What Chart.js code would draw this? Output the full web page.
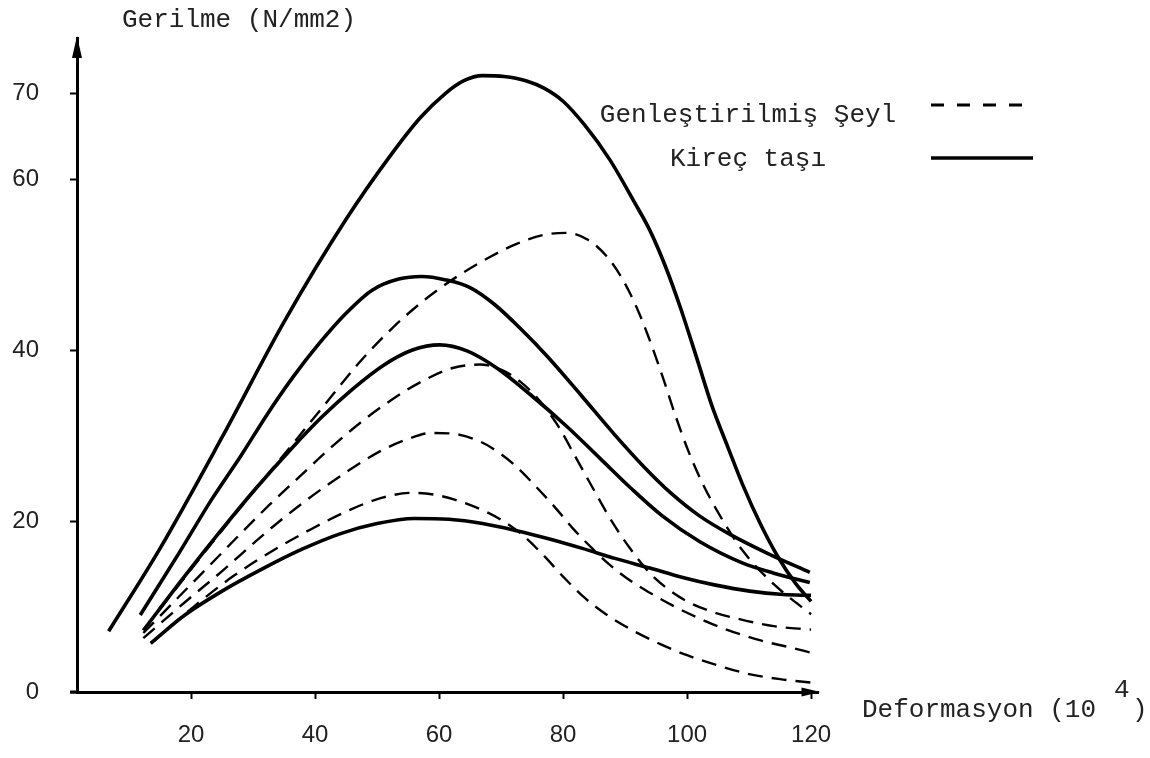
<!DOCTYPE html>
<html>
<head>
<meta charset="utf-8">
<script src="https://cdn.jsdelivr.net/npm/chart.js@4.4.1/dist/chart.umd.min.js"></script>
<style>
  html, body { margin: 0; padding: 0; background: #fff; }
  #wrap { width: 1150px; height: 758px; }
</style>
</head>
<body>
<div id="wrap"><canvas id="c"></canvas></div>
<script>
/* Gerilme - deformasyon eğrileri: 4 kireç taşı (düz), 4 genleştirilmiş şeyl (kesikli) */
const seriesNames = ['Genleştirilmiş Şeyl', 'Kireç taşı'];
const yTitle = 'Gerilme (N/mm2)';
const xTitle = 'Deformasyon (10';
const xTitleExp = '4';
const xTicks = [20, 40, 60, 80, 100, 120];
const yTicks = [0, 20, 40, 60, 70];

// Kireç taşı (düz çizgiler)
const kirec1X = [6.7, 15, 25, 35, 45, 52, 57, 61, 64, 67, 70.5, 74, 77, 80, 83.5, 87.5, 91.5, 94, 96.5, 99, 101.5, 104, 106.5, 109, 111.8, 114.5, 117.5, 120];
const kirec1Y = [7.1, 16.8, 29.8, 43.3, 55.3, 62.6, 67.2, 70.0, 71.5, 72.1, 72.0, 71.5, 70.6, 69.1, 66.3, 62.3, 57.3, 54.0, 49.8, 44.8, 39.2, 33.5, 28.8, 24.2, 19.7, 16.0, 12.7, 10.6];
const kirec2X = [11.8, 18.1, 23.3, 28.1, 32.3, 36.4, 40.7, 45.0, 49.2, 53.5, 57.2, 61.1, 65, 69, 73.0, 77.4, 82.8, 88.2, 93.1, 97.5, 102, 107, 113.3, 119.8];
const kirec2Y = [9.0, 16.3, 22.5, 27.7, 32.5, 36.8, 40.8, 44.3, 47.0, 48.3, 48.6, 48.2, 47.3, 45.3, 42.6, 39.3, 34.8, 30.2, 26.3, 23.2, 20.6, 18.4, 16.1, 14.0];
const kirec3X = [12.3, 18.6, 24.5, 30.2, 36.1, 41, 46, 51, 55.7, 60.1, 64.5, 69.3, 74.7, 80.7, 86, 91, 96, 102, 108.9, 114, 119.8];
const kirec3Y = [7.2, 13.2, 18.6, 23.6, 28.4, 32.1, 35.4, 38.2, 40.0, 40.6, 39.9, 37.9, 34.8, 31.0, 27.3, 23.8, 20.6, 17.6, 15.1, 13.9, 12.8];
const kirec4X = [13.5, 19, 25, 31.5, 37.9, 44, 50, 56, 61.6, 67, 72.3, 77.8, 83.1, 88.5, 94, 99.3, 104.6, 110.1, 115.5, 120];
const kirec4Y = [5.7, 9.0, 11.8, 14.4, 16.7, 18.5, 19.7, 20.3, 20.2, 19.7, 18.9, 17.9, 16.8, 15.6, 14.5, 13.4, 12.5, 11.8, 11.4, 11.3];

// Genleştirilmiş şeyl (kesikli çizgiler)
const seyl1X = [12.6, 21.8, 29.8, 36.6, 42, 47.2, 52.5, 57.9, 62.7, 68.5, 72.8, 77.1, 80.5, 84, 87, 89.5, 91.8, 93.8, 96, 98, 100.2, 102.5, 105, 108.9, 114.3, 120];
const seyl1Y = [7.5, 16.0, 23.2, 29.2, 34.0, 38.6, 42.6, 46.0, 48.5, 51.0, 52.5, 53.5, 53.7, 52.9, 51.0, 48.4, 45.1, 41.5, 37.0, 32.6, 28.2, 24.4, 21.0, 16.6, 12.4, 9.1];
const seyl2X = [12.3, 21.9, 32.5, 37.8, 42.1, 47.3, 52.6, 57.4, 62.2, 66.6, 70, 73.1, 76.3, 79.3, 82, 85, 88, 91, 94, 97, 100, 104, 108.6, 114, 120];
const seyl2Y = [6.9, 14.0, 21.8, 25.4, 28.3, 31.5, 34.3, 36.4, 37.9, 38.3, 37.7, 36.3, 34.0, 31.0, 27.5, 23.6, 19.8, 16.6, 13.9, 12.0, 10.6, 9.4, 8.5, 7.7, 7.3];
const seyl3X = [12.3, 19, 25.1, 31.5, 37.8, 45.4, 50.6, 55, 58.7, 62.4, 65.6, 68.4, 72.1, 75.4, 78.7, 81.5, 84.7, 87.5, 90.7, 94, 97.7, 102, 106, 112, 116.7, 120];
const seyl3Y = [6.3, 10.5, 14.2, 18.3, 22.0, 25.9, 28.2, 29.6, 30.3, 30.2, 29.6, 28.6, 26.6, 24.2, 21.6, 19.2, 16.8, 14.9, 13.1, 11.6, 10.1, 8.6, 7.4, 6.0, 5.2, 4.6];
const seyl4X = [13.5, 20.3, 26.7, 33.1, 39.5, 45.9, 50.7, 55.6, 59.1, 62.5, 66.9, 70.1, 73.4, 76.7, 80, 83.5, 87.5, 91.5, 95.7, 100, 105, 110, 115, 120];
const seyl4Y = [5.7, 9.9, 13.5, 16.5, 19.1, 21.4, 22.7, 23.3, 23.1, 22.5, 21.3, 20.1, 18.4, 16.1, 13.5, 11.0, 8.8, 7.1, 5.6, 4.3, 3.1, 2.1, 1.5, 1.1];

const pts = (xs, ys) => xs.map((x, i) => ({ x: x, y: ys[i] }));
const SOLID_W = 3.6, DASH_W = 2.4, DASH = [15, 9];

function solid(xs, ys) {
  return { label: seriesNames[1], data: pts(xs, ys), borderColor: '#000', borderWidth: SOLID_W };
}
function dashed(xs, ys) {
  return { label: seriesNames[0], data: pts(xs, ys), borderColor: '#000', borderWidth: DASH_W, borderDash: DASH };
}

/* oklar, eksen başlıkları ve açıklama */
const extras = {
  id: 'extras',
  afterDraw(chart) {
    const { ctx, chartArea: a } = chart;
    ctx.save();
    ctx.fillStyle = '#000';
    ctx.strokeStyle = '#000';
    // x ekseni y ekseninin biraz soluna taşıyor
    ctx.lineWidth = 3;
    ctx.beginPath(); ctx.moveTo(a.left - 7, a.bottom); ctx.lineTo(a.left, a.bottom); ctx.stroke();
    // ok uçları
    ctx.beginPath();
    ctx.moveTo(a.left, a.top - 2);
    ctx.lineTo(a.left - 5, a.top + 20);
    ctx.lineTo(a.left + 5, a.top + 20);
    ctx.closePath();
    ctx.fill();
    ctx.beginPath();
    ctx.moveTo(a.right + 2, a.bottom);
    ctx.lineTo(a.right - 17, a.bottom - 4.5);
    ctx.lineTo(a.right - 17, a.bottom + 4.5);
    ctx.closePath();
    ctx.fill();

    ctx.font = '26px "Liberation Mono", "DejaVu Sans Mono", monospace';
    ctx.textBaseline = 'alphabetic';
    ctx.fillStyle = '#222';
    ctx.textAlign = 'left';
    ctx.fillText(yTitle, 122, 27);
    ctx.fillText(xTitle, 862, 717);
    ctx.fillText(xTitleExp, 1114, 697);
    ctx.fillText(')', 1132, 717);

    // açıklama
    ctx.textAlign = 'center';
    ctx.fillText(seriesNames[0], 748, 122);
    ctx.fillText(seriesNames[1], 748, 166);
    ctx.lineWidth = 3;
    ctx.setLineDash([13, 13]);
    ctx.beginPath(); ctx.moveTo(931, 105); ctx.lineTo(1033, 105); ctx.stroke();
    ctx.setLineDash([]);
    ctx.lineWidth = 3.5;
    ctx.beginPath(); ctx.moveTo(931, 158); ctx.lineTo(1033, 158); ctx.stroke();
    ctx.restore();
  }
};

const tickFont = { family: '"Liberation Sans", Arial, sans-serif', size: 24 };

new Chart(document.getElementById('c'), {
  type: 'line',
  data: {
    datasets: [
      solid(kirec1X, kirec1Y),
      solid(kirec2X, kirec2Y),
      solid(kirec3X, kirec3Y),
      solid(kirec4X, kirec4Y),
      dashed(seyl1X, seyl1Y),
      dashed(seyl2X, seyl2Y),
      dashed(seyl3X, seyl3Y),
      dashed(seyl4X, seyl4Y)
    ]
  },
  options: {
    responsive: true,
    maintainAspectRatio: false,
    animation: false,
    layout: { padding: { left: 0, top: 38, right: 331.5, bottom: 0 } },
    elements: {
      point: { radius: 0 },
      line: { cubicInterpolationMode: 'monotone', borderCapStyle: 'butt', fill: false }
    },
    scales: {
      x: {
        type: 'linear',
        min: 1.6,
        max: 121.2,
        afterBuildTicks: (s) => { s.ticks = xTicks.map(v => ({ value: v })); },
        afterFit: (s) => { s.height = 66; s.paddingLeft = 0; s.paddingRight = 0; },
        ticks: { font: tickFont, color: '#222', padding: 22, maxRotation: 0, autoSkip: false },
        grid: { drawOnChartArea: false, drawTicks: true, tickLength: 7, tickWidth: 2, tickColor: '#000' },
        border: { display: true, color: '#000', width: 3 }
      },
      y: {
        type: 'linear',
        min: 0,
        max: 76.5,
        afterBuildTicks: (s) => { s.ticks = yTicks.map(v => ({ value: v })); },
        afterFit: (s) => { s.width = 77; s.paddingTop = 0; s.paddingBottom = 0; },
        ticks: { font: tickFont, color: '#222', padding: 31, autoSkip: false },
        grid: { drawOnChartArea: false, drawTicks: true, tickLength: 7, tickWidth: 2, tickColor: '#000' },
        border: { display: true, color: '#000', width: 3 }
      }
    },
    plugins: {
      legend: { display: false },
      tooltip: { enabled: false }
    }
  },
  plugins: [extras]
});
</script>
</body>
</html>
